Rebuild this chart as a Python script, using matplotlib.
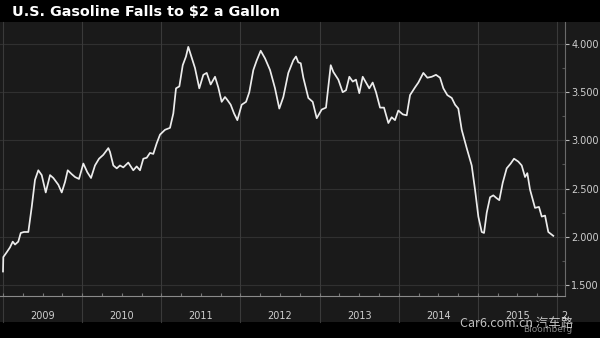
import numpy as np
import matplotlib.pyplot as plt
from matplotlib.patches import Rectangle
from matplotlib.ticker import MultipleLocator, FormatStrFormatter

# U.S. average retail gasoline price, $ per gallon (decimal year, price)
years_frac = [
    2009.000, 2009.004, 2009.047, 2009.088, 2009.123, 2009.152, 2009.193, 2009.224,
    2009.265, 2009.320, 2009.363, 2009.404, 2009.446, 2009.489, 2009.540, 2009.594,
    2009.636, 2009.699, 2009.742, 2009.784, 2009.818, 2009.868, 2009.910, 2009.960,
    2010.015, 2010.065, 2010.112, 2010.162, 2010.213, 2010.267, 2010.331, 2010.352,
    2010.394, 2010.437, 2010.478, 2010.520, 2010.583, 2010.646, 2010.689, 2010.731,
    2010.773, 2010.816, 2010.857, 2010.899, 2010.942, 2010.984, 2011.047, 2011.110,
    2011.152, 2011.186, 2011.228, 2011.271, 2011.312, 2011.341, 2011.372, 2011.426,
    2011.480, 2011.531, 2011.574, 2011.624, 2011.679, 2011.720, 2011.763, 2011.805,
    2011.834, 2011.877, 2011.919, 2011.961, 2012.016, 2012.071, 2012.112, 2012.163,
    2012.206, 2012.256, 2012.311, 2012.374, 2012.437, 2012.491, 2012.542, 2012.605,
    2012.668, 2012.702, 2012.731, 2012.762, 2012.795, 2012.858, 2012.913, 2012.964,
    2013.027, 2013.081, 2013.110, 2013.141, 2013.174, 2013.237, 2013.292, 2013.334,
    2013.376, 2013.419, 2013.460, 2013.502, 2013.545, 2013.587, 2013.628, 2013.671,
    2013.713, 2013.764, 2013.814, 2013.869, 2013.911, 2013.953, 2013.995, 2014.051,
    2014.101, 2014.143, 2014.206, 2014.248, 2014.311, 2014.362, 2014.417, 2014.471,
    2014.522, 2014.564, 2014.614, 2014.670, 2014.712, 2014.753, 2014.796, 2014.859,
    2014.922, 2014.964, 2015.006, 2015.049, 2015.078, 2015.112, 2015.154, 2015.195,
    2015.238, 2015.271, 2015.314, 2015.364, 2015.415, 2015.457, 2015.511, 2015.554,
    2015.596, 2015.625, 2015.659, 2015.722, 2015.772, 2015.807, 2015.849, 2015.890,
    2015.953,
]
price = [
    1.64, 1.79, 1.84, 1.89, 1.95, 1.92, 1.95, 2.04,
    2.05, 2.05, 2.31, 2.59, 2.69, 2.64, 2.46, 2.64,
    2.61, 2.54, 2.46, 2.57, 2.69, 2.65, 2.62, 2.60,
    2.76, 2.67, 2.61, 2.74, 2.81, 2.85, 2.92, 2.88,
    2.74, 2.71, 2.74, 2.72, 2.77, 2.69, 2.73, 2.69,
    2.81, 2.82, 2.87, 2.86, 2.97, 3.06, 3.11, 3.13,
    3.28, 3.54, 3.56, 3.78, 3.87, 3.97, 3.89, 3.75,
    3.54, 3.68, 3.70, 3.58, 3.66, 3.55, 3.40, 3.45,
    3.42, 3.37, 3.28, 3.21, 3.37, 3.40, 3.50, 3.73,
    3.83, 3.93, 3.85, 3.73, 3.54, 3.33, 3.45, 3.70,
    3.83, 3.87, 3.81, 3.80, 3.65, 3.44, 3.40, 3.23,
    3.32, 3.34, 3.55, 3.78, 3.71, 3.63, 3.50, 3.52,
    3.66, 3.61, 3.63, 3.49, 3.66, 3.60, 3.54, 3.60,
    3.50, 3.34, 3.34, 3.18, 3.24, 3.21, 3.31, 3.27,
    3.26, 3.47, 3.55, 3.60, 3.70, 3.65, 3.66, 3.68,
    3.65, 3.54, 3.47, 3.44, 3.37, 3.33, 3.11, 2.92,
    2.74, 2.49, 2.21, 2.05, 2.04, 2.25, 2.41, 2.43,
    2.40, 2.38, 2.56, 2.71, 2.76, 2.81, 2.78, 2.74,
    2.62, 2.66, 2.49, 2.30, 2.31, 2.21, 2.22, 2.05,
    2.01,
]
year_labels = ['2009', '2010', '2011', '2012', '2013', '2014', '2015']
title = 'U.S. Gasoline Falls to $2 a Gallon'

W, H = 600, 338
fig = plt.figure(figsize=(W / 100, H / 100), dpi=100, facecolor='black')

# dark panel behind plot + year band
fig.patches.append(Rectangle((0, 16 / H), 1, 300 / H, transform=fig.transFigure,
                             facecolor='#1a1a1a', edgecolor='none', zorder=-1))

ax = fig.add_axes([0, 42 / H, 565 / W, 274 / H])
ax.set_zorder(2)
ax.patch.set_alpha(0)

ax.plot(years_frac, price, color='#ececec', lw=1.25, solid_joinstyle='round', zorder=3)

ax.set_xlim(2008.962, 2016.101)
ax.set_ylim(1.386, 4.228)

# horizontal grid
for v in np.arange(1.5, 4.01, 0.5):
    ax.axhline(v, color='#303030', lw=0.8, zorder=1)

# year boundaries run down through the label band
xt = ax.get_xaxis_transform()
for yr in range(2009, 2017):
    ax.plot([yr, yr], [-0.095, 1], transform=xt, color='#3a3a3a', lw=0.8,
            clip_on=False, zorder=1)
for i, lab in enumerate(year_labels):
    ax.text(2009.5 + i, -0.073, lab, transform=xt, ha='center', va='center',
            color='#cfcfcf', fontsize=7)
ax.text(2016.05, -0.073, '2', transform=xt, ha='left', va='center',
        color='#cfcfcf', fontsize=7)

for s in ['top', 'left']:
    ax.spines[s].set_visible(False)
ax.spines['bottom'].set_color('#8a8a8a')
ax.spines['right'].set_color('#6a6a6a')
ax.spines['bottom'].set_linewidth(0.8)
ax.spines['right'].set_linewidth(0.8)

ax.set_xticks(np.arange(2009, 2016.01, 0.25))
ax.tick_params(axis='x', direction='in', length=2.5, color='#777777', labelbottom=False)

ax.yaxis.tick_right()
ax.yaxis.set_major_locator(MultipleLocator(0.5))
ax.yaxis.set_minor_locator(MultipleLocator(0.25))
ax.yaxis.set_major_formatter(FormatStrFormatter('%.3f'))
ax.tick_params(axis='y', which='major', direction='out', length=3, width=0.8,
               color='#bbbbbb', labelcolor='#d0d0d0', labelsize=7, pad=1.5)
ax.tick_params(axis='y', which='minor', direction='in', length=2, width=0.8,
               color='#555555')

fig.text(12 / W, 1 - 12 / H, title, color='white', fontsize=10.4,
         fontweight='bold', ha='left', va='center')

fig.text(523 / W, 1 - 330 / H, 'Bloomberg', color='#aaaaaa', fontsize=6.5,
         ha='left', va='center', alpha=0.8)
fig.text(460 / W, 1 - 324 / H, 'Car6.com.cn 汽车路', color='white', fontsize=9,
         ha='left', va='center', alpha=0.75,
         family=['Noto Sans CJK SC', 'DejaVu Sans'])

fig.savefig('out.png', dpi=100, facecolor='black')
